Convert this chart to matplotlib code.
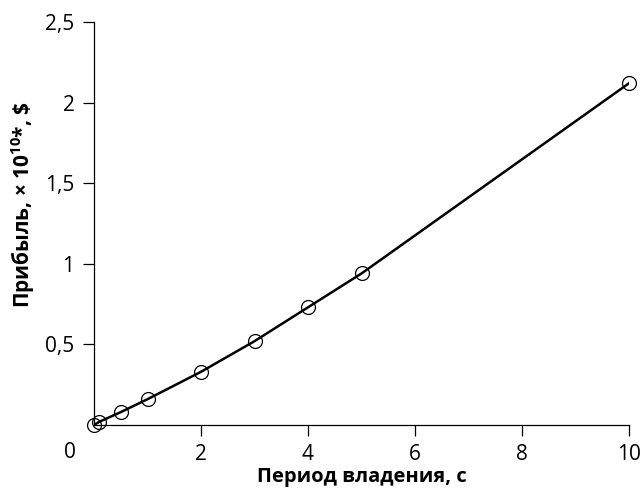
import matplotlib
matplotlib.use("Agg")
import matplotlib.pyplot as plt

plt.rcParams['font.family'] = ['Open Sans', 'DejaVu Sans']
plt.rcParams['mathtext.fontset'] = 'custom'
plt.rcParams['mathtext.rm'] = 'Open Sans'
plt.rcParams['mathtext.bf'] = 'Open Sans:bold'

# holding period, s
period = [0, 0.1, 0.5, 1, 2, 3, 4, 5, 10]
# profit, x 10^10 $
profit = [0.0, 0.02, 0.08, 0.16, 0.33, 0.52, 0.73, 0.94, 2.12]

xticks = [2, 4, 6, 8, 10]
yticks = [0.5, 1, 1.5, 2, 2.5]
yticklabels = ["0,5", "1", "1,5", "2", "2,5"]

fig = plt.figure(figsize=(6.41, 4.9), dpi=100)
ax = fig.add_axes([94 / 641, 1 - 425 / 490, (629 - 94) / 641, (425 - 22) / 490])

ax.plot(period, profit, color="black", lw=1.8, zorder=2)
ax.plot(period, profit, "o", ms=10, mfc="none", mec="black", mew=0.9,
        zorder=3, clip_on=False)

ax.set_xlim(0, 10)
ax.set_ylim(0, 2.5)
ax.set_xticks(xticks)
ax.set_xticklabels([str(t) for t in xticks])
ax.set_yticks(yticks)
ax.set_yticklabels(yticklabels)

for s in ("top", "right"):
    ax.spines[s].set_visible(False)
for s in ("left", "bottom"):
    ax.spines[s].set_linewidth(0.9)
ax.tick_params(direction="out", length=8, width=0.9, labelsize=15, pad=6)

# origin label, offset to the lower left
ax.annotate("0", xy=(0, 0), xycoords="axes fraction", xytext=(-24, -27),
            textcoords="offset pixels", ha="center", va="center", fontsize=15)

ax.set_xlabel("Период владения, с", fontsize=14.5, fontweight="bold", va="center")
ax.xaxis.set_label_coords(0.5, -(477 - 425) / 403)
ax.set_ylabel(r"Прибыль, × 10$^{\mathbf{10}}$*, \$", fontsize=15, fontweight="bold",
              va="center")
ax.yaxis.set_label_coords(-(94 - 23) / 535, (425 - 205) / 403)

fig.savefig("out.png", dpi=100)
